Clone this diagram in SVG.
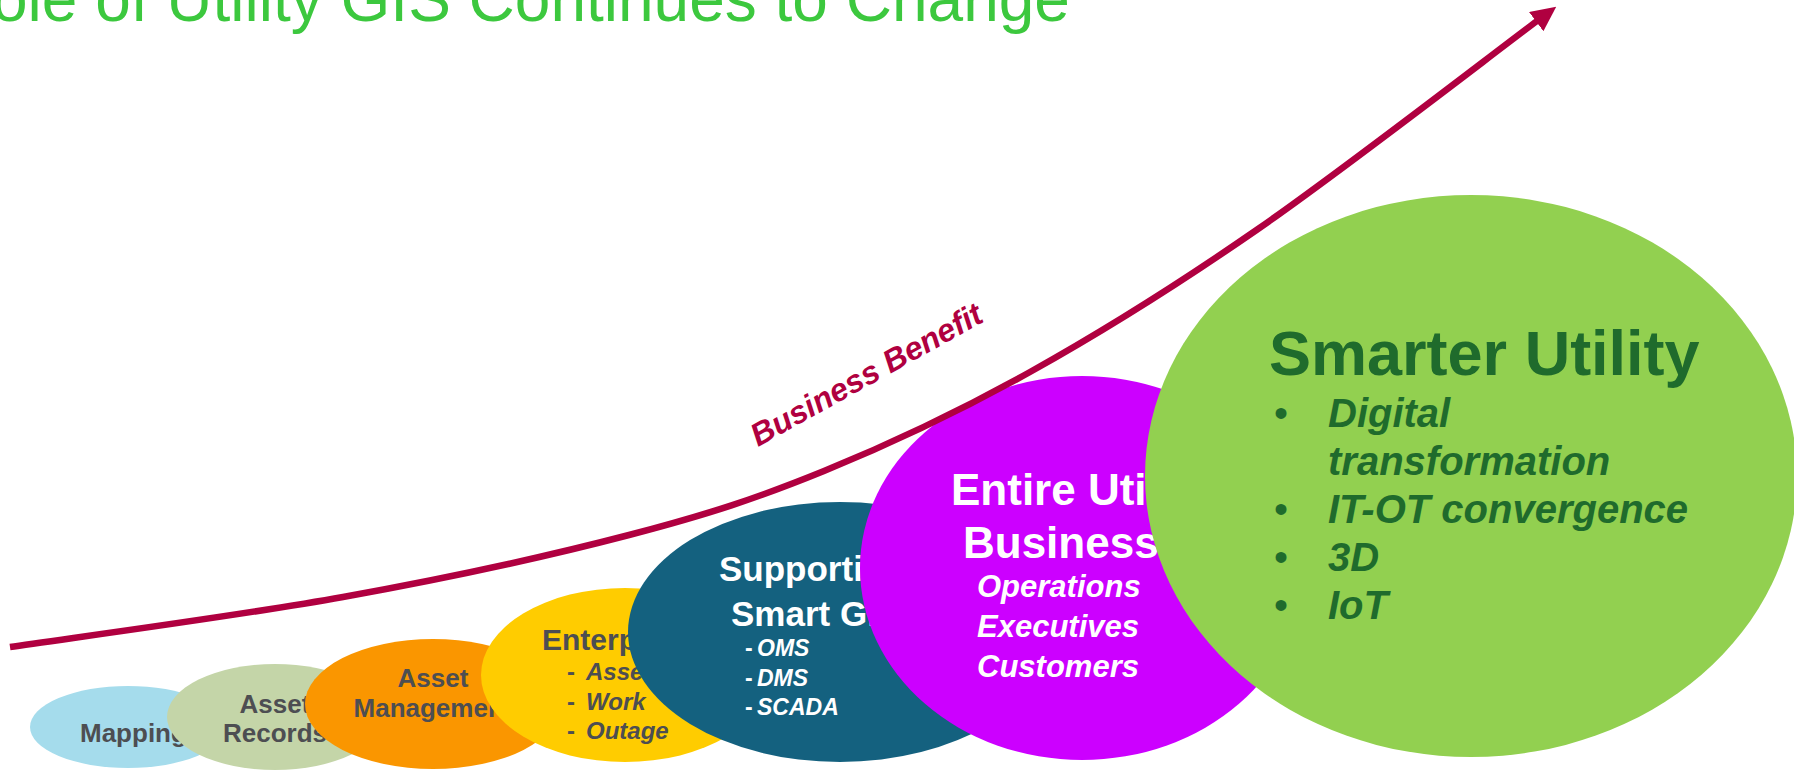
<svg xmlns="http://www.w3.org/2000/svg" width="1794" height="770" viewBox="0 0 1794 770">
<defs>
<style>
text{font-family:"Liberation Sans",Arial,sans-serif;}
.lbl{font-weight:bold;font-size:26px;fill:#4D4E52;}
.ent{font-weight:bold;fill:#4D4E52;}
.wht{font-weight:bold;fill:#FFFFFF;}
.it{font-style:italic;}
.grn{font-weight:bold;fill:#1F6B2C;}
.curve{fill:none;stroke:#B00040;stroke-width:6.5;}
</style>
<marker id="ah" markerUnits="userSpaceOnUse" markerWidth="25" markerHeight="24" viewBox="0 0 25 24" refX="1" refY="12" orient="auto">
<path d="M0,0 L25,12 L0,24 Z" fill="#B00040"/>
</marker>
</defs>
<rect width="1794" height="770" fill="#FFFFFF"/>
<text x="-8" y="21" font-size="64" fill="#3CC83E">ole of Utility GIS Continues to Change</text>

<g id="mapping">
<ellipse cx="128" cy="727" rx="98" ry="41" fill="#A5DCEC"/>
<text class="lbl" x="80" y="742">Mapping</text>
</g>
<g id="asset-records">
<ellipse cx="275" cy="717" rx="108" ry="53" fill="#C4D5A8"/>
<text class="lbl" text-anchor="middle"><tspan x="275" y="713">Asset</tspan><tspan x="275" y="742">Records</tspan></text>
</g>
<g id="asset-management">
<ellipse cx="433" cy="704" rx="128" ry="65" fill="#FA9600"/>
<text class="lbl" text-anchor="middle"><tspan x="433" y="687">Asset</tspan><tspan x="433" y="717">Management</tspan></text>
</g>
<g id="enterprise">
<ellipse cx="625" cy="675" rx="144" ry="87" fill="#FFCC00"/>
<text class="ent" x="542" y="650" font-size="30">Enterprise</text>
<g class="ent" font-size="24">
<text x="567" y="680">-</text><text class="it" x="586" y="680">Asset</text>
<text x="567" y="710">-</text><text class="it" x="586" y="710">Work</text>
<text x="567" y="739">-</text><text class="it" x="586" y="739">Outage</text>
</g>
</g>
<g id="smart-grid">
<ellipse cx="840" cy="632" rx="212" ry="130" fill="#14617F"/>
<text class="wht" font-size="35"><tspan x="719" y="581">Supporting</tspan><tspan x="731" y="626">Smart Grid</tspan></text>
<g class="wht" font-size="23">
<text x="745" y="656">-</text><text class="it" x="757" y="656">OMS</text>
<text x="745" y="686">-</text><text class="it" x="757" y="686">DMS</text>
<text x="745" y="715">-</text><text class="it" x="757" y="715">SCADA</text>
</g>
</g>
<g id="entire-utility">
<ellipse cx="1082" cy="568" rx="222" ry="192" fill="#CC00FF"/>
<text class="wht" font-size="44"><tspan x="951" y="505">Entire Utility</tspan><tspan x="963" y="558">Business</tspan></text>
<text class="wht it" font-size="31"><tspan x="977" y="597">Operations</tspan><tspan x="977" y="637">Executives</tspan><tspan x="977" y="677">Customers</tspan></text>
</g>
<g id="smarter-utility">
<ellipse cx="1471" cy="476" rx="326" ry="281" fill="#92D050"/>
<text class="grn" x="1269" y="375" font-size="63">Smarter Utility</text>
<g font-size="40" fill="#1F6B2C">
<text x="1274" y="427">•</text>
<text x="1274" y="523">•</text>
<text x="1274" y="571">•</text>
<text x="1274" y="619">•</text>
</g>
<text class="grn it" font-size="40"><tspan x="1328" y="427">Digital</tspan><tspan x="1328" y="475">transformation</tspan><tspan x="1328" y="523">IT-OT convergence</tspan><tspan x="1328" y="571">3D</tspan><tspan x="1328" y="619">IoT</tspan></text>
</g>

<g id="connectors">
<path class="curve" marker-end="url(#ah)" d="M10,647 C65.5,638.7 239.8,615.7 343,597 C446.2,578.3 548.8,556 629,535 C709.2,514 757.2,498.2 824,471 C890.8,443.8 957.7,412.3 1030,372 C1102.3,331.7 1173.5,287.5 1258,229 C1342.5,170.5 1490.5,55.7 1537,21"/>
<text x="758" y="447" transform="rotate(-29 758 447)" font-size="32" font-weight="bold" font-style="italic" fill="#B00040">Business Benefit</text>
</g>
</svg>
